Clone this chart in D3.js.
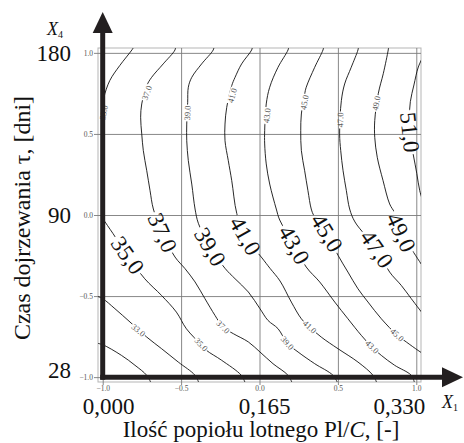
<!DOCTYPE html>
<html>
<head>
<meta charset="utf-8">
<script src="https://cdn.jsdelivr.net/npm/d3@7"></script>
<style>
  body { margin: 0; background: #fff; }
  svg { display: block; }
  svg text { font-family: 'Liberation Serif', 'DejaVu Serif', serif; }
</style>
</head>
<body>
<div id="container"></div>
<script>
/* DATA */
// coded factor levels and their real values
const codedTicks = [-1, -0.5, 0, 0.5, 1];
const x1Coded = [-1, 0, 1];
const x1Labels = ["0,000", "0,165", "0,330"];
const x4Coded = [-1, 0, 1];
const x4Labels = ["28", "90", "180"];

// contour lines, in coded units [X1, X4]
const c31 = [[-1.04,-0.79],[-1.0,-0.80],[-0.88,-0.866],[-0.794,-0.927],[-0.719,-0.989],[-0.69,-1.04]];
const c33 = [[-1.04,-0.50],[-1.0,-0.516],[-0.922,-0.578],[-0.826,-0.66],[-0.719,-0.753],[-0.624,-0.825],[-0.518,-0.907],[-0.411,-0.989],[-0.385,-1.04]];
const c35a = [[-0.80,1.04],[-0.813,1.019],[-0.891,0.922],[-0.955,0.829],[-0.992,0.727],[-0.998,0.685],[-1.01,0.62]];
const c35b = [[-1.01,0.0],[-0.998,-0.023],[-0.934,-0.115],[-0.842,-0.249],[-0.732,-0.393],[-0.625,-0.496],[-0.53,-0.599],[-0.466,-0.702],[-0.373,-0.799],[-0.338,-0.835],[-0.243,-0.895],[-0.115,-0.99],[-0.09,-1.04]];
const c37 = [[-0.535,1.04],[-0.539,1.018],[-0.614,0.932],[-0.688,0.849],[-0.719,0.798],[-0.751,0.685],[-0.758,0.603],[-0.751,0.5],[-0.741,0.397],[-0.719,0.273],[-0.698,0.15],[-0.677,0.037],[-0.62,-0.11],[-0.539,-0.259],[-0.475,-0.331],[-0.411,-0.413],[-0.348,-0.516],[-0.284,-0.619],[-0.233,-0.691],[-0.167,-0.732],[-0.071,-0.783],[0.003,-0.845],[0.086,-0.917],[0.182,-0.989],[0.21,-1.04]];
const c39 = [[-0.29,1.04],[-0.295,1.018],[-0.369,0.932],[-0.432,0.849],[-0.454,0.788],[-0.458,0.695],[-0.464,0.561],[-0.464,0.458],[-0.454,0.335],[-0.432,0.191],[-0.411,0.037],[-0.39,-0.051],[-0.316,-0.197],[-0.22,-0.329],[-0.156,-0.393],[-0.071,-0.475],[0.003,-0.578],[0.054,-0.65],[0.118,-0.701],[0.177,-0.79],[0.246,-0.845],[0.352,-0.917],[0.469,-0.989],[0.50,-1.04]];
const c41 = [[-0.045,1.04],[-0.05,1.018],[-0.114,0.932],[-0.156,0.849],[-0.177,0.798],[-0.209,0.664],[-0.22,0.561],[-0.22,0.458],[-0.199,0.335],[-0.177,0.212],[-0.145,0.01],[-0.092,-0.13],[0.016,-0.265],[0.067,-0.329],[0.131,-0.407],[0.203,-0.537],[0.267,-0.64],[0.32,-0.691],[0.394,-0.753],[0.501,-0.825],[0.628,-0.907],[0.724,-0.989],[0.75,-1.04]];
const c43 = [[0.187,1.04],[0.182,1.018],[0.118,0.911],[0.065,0.788],[0.043,0.685],[0.033,0.52],[0.033,0.438],[0.043,0.315],[0.065,0.191],[0.107,0.037],[0.129,-0.031],[0.22,-0.185],[0.298,-0.321],[0.384,-0.413],[0.48,-0.537],[0.564,-0.64],[0.649,-0.742],[0.717,-0.814],[0.777,-0.866],[0.862,-0.927],[0.968,-0.989],[0.99,-1.04]];
const c45 = [[0.41,1.04],[0.405,1.018],[0.352,0.911],[0.298,0.788],[0.288,0.746],[0.267,0.623],[0.263,0.52],[0.267,0.397],[0.288,0.273],[0.309,0.15],[0.33,0.037],[0.348,-0.006],[0.429,-0.111],[0.501,-0.249],[0.564,-0.352],[0.628,-0.455],[0.692,-0.537],[0.777,-0.64],[0.877,-0.74],[0.936,-0.783],[1.011,-0.835],[1.05,-0.86]];
const c47 = [[0.632,1.04],[0.628,1.018],[0.585,0.911],[0.543,0.808],[0.522,0.705],[0.511,0.5],[0.518,0.397],[0.533,0.273],[0.554,0.15],[0.575,0.037],[0.609,-0.043],[0.747,-0.21],[0.83,-0.352],[0.904,-0.434],[0.968,-0.516],[1.05,-0.62]];
const c49 = [[0.824,1.04],[0.821,1.018],[0.79,0.874],[0.758,0.751],[0.735,0.582],[0.735,0.479],[0.751,0.356],[0.788,0.212],[0.83,0.068],[0.864,0.01],[0.902,-0.108],[0.973,-0.216],[1.05,-0.33]];
const c51 = [[1.05,0.99],[1.013,0.913],[0.985,0.802],[0.962,0.699],[0.956,0.6],[0.96,0.47],[0.981,0.37],[1.003,0.257],[1.022,0.15],[1.05,0.06]];

const contours = [
  {level: 31, pts: c31}, {level: 33, pts: c33}, {level: 35, pts: c35a}, {level: 35, pts: c35b},
  {level: 37, pts: c37}, {level: 39, pts: c39}, {level: 41, pts: c41}, {level: 43, pts: c43},
  {level: 45, pts: c45}, {level: 47, pts: c47}, {level: 49, pts: c49}, {level: 51, pts: c51}
];

// contour labels [level, X1, X4]
const bigLabels = [[35,-0.842,-0.249],[37,-0.62,-0.11],[39,-0.316,-0.197],[41,-0.092,-0.13],[43,0.22,-0.185],
  [45,0.429,-0.111],[47,0.747,-0.21],[49,0.902,-0.108],[51,0.958,0.51]];
const smallLabels = [[35,-0.993,0.632],[37,-0.717,0.753],[39,-0.459,0.629],[41,-0.173,0.736],[43,0.048,0.613],
  [45,0.288,0.695],[47,0.516,0.586],[49,0.745,0.689],[33,-0.773,-0.711],[35,-0.373,-0.799],
  [37,-0.233,-0.691],[39,0.177,-0.79],[41,0.32,-0.691],[43,0.717,-0.814],[45,0.877,-0.74]];

/* CONSTANTS */
const width = 464, height = 443;
const frame = {left: 98, right: 421, top: 48, bottom: 382};
const ink = "#231f20";
const serif = "'Liberation Serif', 'DejaVu Serif', serif";

/* SCALES */
const x = d3.scaleLinear().domain([-1.03, 1.03]).range([frame.left, frame.right]);
const y = d3.scaleLinear().domain([-1.03, 1.03]).range([frame.bottom, frame.top]);

const svg = d3.select("#container").append("svg")
  .attr("width", width).attr("height", height)
  .style("font-family", serif);

const defs = svg.append("defs");
defs.append("clipPath").attr("id", "plotClip")
  .append("rect")
    .attr("x", frame.left).attr("y", frame.top)
    .attr("width", frame.right - frame.left).attr("height", frame.bottom - frame.top);
const mask = defs.append("mask").attr("id", "labelGaps")
  .attr("maskUnits", "userSpaceOnUse")
  .attr("x", 0).attr("y", 0).attr("width", width).attr("height", height);
mask.append("rect").attr("width", width).attr("height", height).attr("fill", "white");

// frame
svg.append("rect")
  .attr("x", frame.left).attr("y", frame.top)
  .attr("width", frame.right - frame.left).attr("height", frame.bottom - frame.top)
  .attr("fill", "none").attr("stroke", "#b5b5b5").attr("stroke-width", 1);

// grid + small coded ticks
const fmt = d3.format(".1f");
const gy = svg.append("g")
  .attr("transform", `translate(${frame.left - 4},0)`)
  .call(d3.axisLeft(y).tickValues(codedTicks).tickSize(-(frame.right - frame.left + 4)).tickPadding(1).tickFormat(fmt));
const gx = svg.append("g")
  .attr("transform", `translate(0,${frame.bottom + 3})`)
  .call(d3.axisBottom(x).tickValues(codedTicks).tickSize(-(frame.bottom - frame.top + 3)).tickPadding(1).tickFormat(fmt));
[gx, gy].forEach(g => {
  g.attr("font-family", null).style("font-family", serif);
  g.select(".domain").remove();
  g.selectAll(".tick line").attr("stroke", "#7a7a7a").attr("stroke-width", 0.9);
  g.selectAll(".tick text").attr("fill", "#555").style("font-size", "7.5px");
});

// contour lines
const line = d3.line()
  .x(d => x(d[0])).y(d => y(d[1]))
  .curve(d3.curveCatmullRom.alpha(0.5));

const contourG = svg.append("g").attr("clip-path", "url(#plotClip)")
  .append("g").attr("mask", "url(#labelGaps)");
contourG.selectAll("path")
  .data(contours)
  .join("path")
    .attr("d", d => line(d.pts))
    .attr("fill", "none")
    .attr("stroke", "#111")
    .attr("stroke-width", 0.9);

// label angle follows the local direction of its contour
function labelAngle(level, px, py) {
  let best = null, bd = Infinity;
  contours.filter(c => c.level === level).forEach(c => {
    c.pts.forEach((p, i) => {
      const d = (x(p[0]) - px) ** 2 + (y(p[1]) - py) ** 2;
      if (d < bd) { bd = d; best = {pts: c.pts, i}; }
    });
  });
  const a = best.pts[Math.max(best.i - 1, 0)];
  const b = best.pts[Math.min(best.i + 1, best.pts.length - 1)];
  let ang = Math.atan2(y(b[1]) - y(a[1]), x(b[0]) - x(a[0])) * 180 / Math.PI;
  if (ang > 90) ang -= 180;
  if (ang < -90) ang += 180;
  return ang;
}

function drawLabels(data, size, color, text, pad) {
  const g = svg.append("g");
  data.forEach(([lev, cx, cy]) => {
    const px = x(cx), py = y(cy);
    const ang = labelAngle(lev, px, py);
    const t = g.append("text")
      .attr("transform", `translate(${px},${py}) rotate(${ang})`)
      .attr("text-anchor", "middle")
      .attr("dy", "0.33em")
      .attr("fill", color)
      .style("font-size", size + "px")
      .text(text(lev));
    const len = t.node().getComputedTextLength();
    mask.append("rect")
      .attr("transform", `translate(${px},${py}) rotate(${ang})`)
      .attr("x", -len / 2 - pad).attr("y", -size * 0.45)
      .attr("width", len + 2 * pad).attr("height", size * 0.9)
      .attr("fill", "black");
  });
}
drawLabels(smallLabels, 8.5, "#555", v => fmt(v), 1);
drawLabels(bigLabels, 23, "#111", v => fmt(v).replace(".", ","), 2);

// thick axes with arrows
const x0 = x(-1), y0 = y(-1);
svg.append("line").attr("x1", x0).attr("x2", x0).attr("y1", y0 + 2.5).attr("y2", 30)
  .attr("stroke", ink).attr("stroke-width", 5);
svg.append("path").attr("d", `M${x0},12 L${x0 - 10},33 L${x0 + 10},33 Z`).attr("fill", ink);
svg.append("line").attr("x1", x0 - 2.5).attr("x2", 445).attr("y1", y0).attr("y2", y0)
  .attr("stroke", ink).attr("stroke-width", 5);
svg.append("path").attr("d", `M463,${y0} L442,${y0 - 10} L442,${y0 + 10} Z`).attr("fill", ink);

// real-value labels
svg.append("g").selectAll("text")
  .data(x4Coded)
  .join("text")
    .attr("x", 71)
    .attr("y", d => Math.min(y(d) + 8, frame.bottom - 4))
    .attr("text-anchor", "end")
    .attr("fill", "#111")
    .style("font-size", "23px")
    .text((d, i) => x4Labels[i]);
const anchors = ["start", "middle", "end"];
const xShift = [-20, 5, 9];
svg.append("g").selectAll("text")
  .data(x1Coded)
  .join("text")
    .attr("x", (d, i) => x(d) + xShift[i])
    .attr("y", 414)
    .attr("text-anchor", (d, i) => anchors[i])
    .attr("fill", "#111")
    .style("font-size", "23px")
    .text((d, i) => x1Labels[i]);

// factor symbols
const x4t = svg.append("text").attr("x", 47).attr("y", 35).attr("fill", "#111").style("font-size", "18px");
x4t.append("tspan").style("font-style", "italic").text("X");
x4t.append("tspan").attr("dy", 3).style("font-size", "10px").text("4");
const x1t = svg.append("text").attr("x", 442).attr("y", 408).attr("fill", "#111").style("font-size", "18px");
x1t.append("tspan").style("font-style", "italic").text("X");
x1t.append("tspan").attr("dy", 3).style("font-size", "10px").text("1");

// axis titles
const xt = svg.append("text").attr("x", 261).attr("y", 437).attr("text-anchor", "middle")
  .attr("fill", "#111").style("font-size", "23px");
xt.append("tspan").text("Ilość popiołu lotnego Pl/");
xt.append("tspan").style("font-style", "italic").text("C");
xt.append("tspan").text(", [-]");

svg.append("text")
  .attr("transform", "translate(30,218) rotate(-90)")
  .attr("text-anchor", "middle")
  .attr("fill", "#111")
  .style("font-size", "24px")
  .text("Czas dojrzewania τ, [dni]");
</script>
</body>
</html>
